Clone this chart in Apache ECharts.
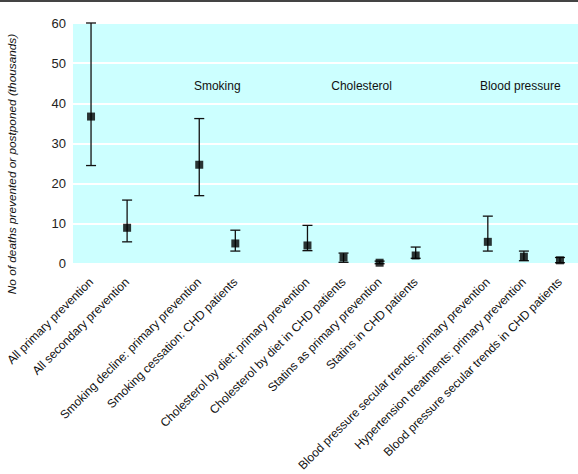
<!DOCTYPE html>
<html>
<head>
<meta charset="utf-8">
<script src="https://cdn.jsdelivr.net/npm/echarts@6/dist/echarts.min.js"></script>
<style>html,body{margin:0;padding:0;background:#fff;}#c{width:578px;height:474px;}</style>
</head>
<body>
<div id="c"></div>
<script>
var categories = ['All primary prevention','All secondary prevention','',
  'Smoking decline: primary prevention','Smoking cessation: CHD patients','',
  'Cholesterol by diet: primary prevention','Cholesterol by diet in CHD patients',
  'Statins as primary prevention','Statins in CHD patients','',
  'Blood pressure secular trends: primary prevention','Hypertension treatments: primary prevention',
  'Blood pressure secular trends in CHD patients'];
var estimates = [36.7, 9.0, null, 24.7, 5.1, null, 4.6, 1.6, 0.3, 2.1, null, 5.5, 1.8, 0.9];
var lowerBounds = [24.5, 5.5, null, 17.0, 3.2, null, 3.3, 0.4, 0.05, 1.4, null, 3.2, 0.8, 0.3];
var upperBounds = [60.0, 15.9, null, 36.2, 8.4, null, 9.6, 2.7, 0.7, 4.2, null, 11.9, 3.2, 1.6];
var groupNames = ['Smoking', 'Cholesterol', 'Blood pressure'];
var yTicks = [0, 10, 20, 30, 40, 50, 60];
var yTitle = 'No of deaths prevented or postponed (thousands)';

var groupAnchor = [[3, 4, 0.5], [7, 8, 0.5], [11, 12, 0.9]];
var groupY = 44.3;

var errData = [], ptData = [];
for (var i = 0; i < categories.length; i++) {
  if (estimates[i] !== null) {
    errData.push([i, lowerBounds[i], upperBounds[i]]);
    ptData.push([i, estimates[i]]);
  }
}
var grpData = groupNames.map(function (n, k) { return [groupAnchor[k][0], groupAnchor[k][1], groupAnchor[k][2], groupY, n]; });

var chart = echarts.init(document.getElementById('c'), null, {renderer: 'svg'});
chart.setOption({
  animation: false,
  textStyle: {fontFamily: 'Liberation Sans, Arial, sans-serif'},
  grid: {left: 73, right: -1, top: 23, bottom: 210, show: true, borderWidth: 0, backgroundColor: '#ccffff'},
  xAxis: {
    type: 'category', data: categories, boundaryGap: true,
    axisLine: {show: false}, axisTick: {show: false},
    axisLabel: {rotate: 45, interval: 0, fontSize: 12, color: '#111', margin: 16}
  },
  yAxis: {
    type: 'value', min: yTicks[0], max: yTicks[yTicks.length - 1], interval: 10,
    axisLine: {show: false}, axisTick: {show: false},
    axisLabel: {fontSize: 13, color: '#222', margin: 7},
    splitLine: {show: true, lineStyle: {color: '#ffffff', width: 2}}
  },
  graphic: [
    {type: 'line', shape: {x1: 0, y1: 1, x2: 578, y2: 1}, style: {stroke: '#444', lineWidth: 2}},
    {type: 'text', x: 12, y: 164, rotation: Math.PI / 2,
     style: {text: yTitle, font: 'italic 11.8px Liberation Sans, Arial, sans-serif', fill: '#111', textAlign: 'center', textVerticalAlign: 'middle'}}
  ],
  series: [
    {
      type: 'custom', data: errData, z: 3,
      renderItem: function (params, api) {
        var x = api.value(0);
        var lo = api.coord([x, api.value(1)]);
        var hi = api.coord([x, api.value(2)]);
        var w = 5;
        var st = {stroke: '#111', lineWidth: 1.3};
        return {type: 'group', children: [
          {type: 'line', shape: {x1: lo[0], y1: lo[1], x2: hi[0], y2: hi[1]}, style: st},
          {type: 'line', shape: {x1: lo[0] - w, y1: lo[1], x2: lo[0] + w, y2: lo[1]}, style: st},
          {type: 'line', shape: {x1: hi[0] - w, y1: hi[1], x2: hi[0] + w, y2: hi[1]}, style: st}
        ]};
      }
    },
    {
      type: 'scatter', data: ptData, symbol: 'rect', symbolSize: 8, z: 4,
      itemStyle: {color: '#000'}
    },
    {
      type: 'custom', data: grpData, z: 2,
      renderItem: function (params, api) {
        var a = api.coord([api.value(0), api.value(3)]);
        var b = api.coord([api.value(1), api.value(3)]);
        var t = api.value(2);
        return {type: 'text', x: a[0] + (b[0] - a[0]) * t, y: a[1],
          style: {text: grpData[params.dataIndex][4], fill: '#111', fontSize: 12,
            fontFamily: 'Liberation Sans, Arial, sans-serif', textAlign: 'center', textVerticalAlign: 'middle'}};
      }
    }
  ]
});
</script>
</body>
</html>
